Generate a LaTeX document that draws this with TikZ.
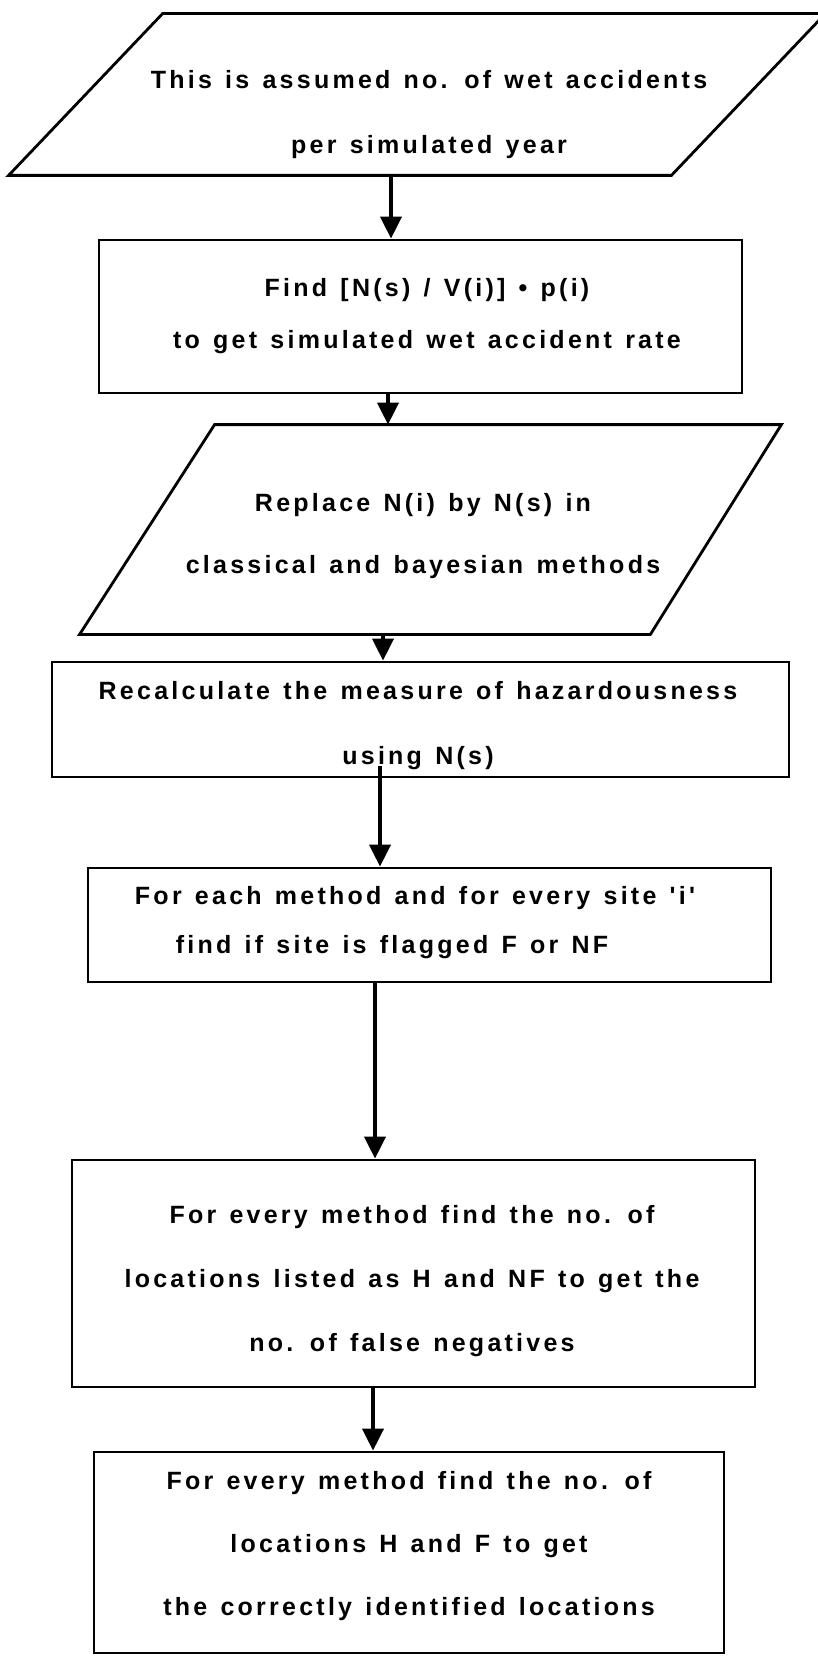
\documentclass[tikz,border=0pt]{standalone}
\usepackage{fontspec}
\newfontfamily\ff{Liberation Sans}[LetterSpace=13,WordSpace=1.3]
\usetikzlibrary{calc,arrows.meta}
\tikzset{
  shp/.style={rectangle, inner sep=0pt, line width=2.8pt},
  boxnode/.style={shp, draw},
  para/.style={shp},
  txt/.style={font=\ff\bfseries\fontsize{25}{30}\selectfont, align=center, inner sep=0pt},
  arr/.style={line width=4pt, -{Triangle[width=21pt,length=22pt]}},
}
\begin{document}
\begin{tikzpicture}[x=1pt,y=-1pt]
\useasboundingbox (0,0) rectangle (817,1656);
\fill[white] (0,0) rectangle (817,1656);

% shapes
\node[para, minimum width=814, minimum height=159] (p1) at (417,94.5) {};
\draw[line width=2.8pt, line join=miter] ($(p1.north west)+(154,0)$) -- (p1.north east) -- ($(p1.south east)+(-154,0)$) -- (p1.south west) -- cycle;
\node[boxnode, minimum width=643, minimum height=153] (b2) at (420.5,316.5) {};
\node[para, minimum width=699, minimum height=207] (p3) at (430.5,529.5) {};
\draw[line width=2.8pt, line join=miter] ($(p3.north west)+(135,0)$) -- (p3.north east) -- ($(p3.south east)+(-131,0)$) -- (p3.south west) -- cycle;
\node[boxnode, minimum width=737, minimum height=115] (b4) at (420.5,719.5) {};
\node[boxnode, minimum width=683, minimum height=114] (b5) at (429.5,925) {};
\node[boxnode, minimum width=683, minimum height=227] (b6) at (413.5,1273.5) {};
\node[boxnode, minimum width=630, minimum height=201] (b7) at (409,1552.5) {};

% texts
\node[txt] (t1) at (429,114.5) {This is assumed no. of wet accidents\\[35pt]per simulated year};
\node[txt] (t2) at (427,316) {Find [N(s) / V(i)] • p(i)\\[22pt]to get simulated wet accident rate};
\node[txt] (t3) at (423,536) {Replace N(i) by N(s) in\\[32pt]classical and bayesian methods};
\node[txt] (t4) at (418,725.5) {Recalculate the measure of hazardousness\\[35pt]using N(s)};
\node[txt] (t5) at (415,922.5) {For each method and for every site 'i'\\[19pt]find if site is flagged F or NF\hspace*{46pt}};
\node[txt] (t6) at (412,1281) {For every method find the no. of\\[34pt]locations listed as H and NF to get the\\[34pt]no. of false negatives};
\node[txt] (t7) at (409,1546.5) {For every method find the no. of\\[33pt]locations H and F to get\\[33pt]the correctly identified locations};

% connectors
\draw[arr] (p1.south -| 391,0) -- (b2.north -| 391,0);
\draw[arr] (b2.south -| 388,0) -- (p3.north -| 388,0);
\draw[arr] (p3.south -| 383,0) -- (b4.north -| 383,0);
\draw[arr] ($(b4.south -| 380,0)+(0,-12)$) -- (b5.north -| 380,0);
\draw[arr] (b5.south -| 375,0) -- (b6.north -| 375,0);
\draw[arr] (b6.south -| 373,0) -- (b7.north -| 373,0);
\end{tikzpicture}
\end{document}
